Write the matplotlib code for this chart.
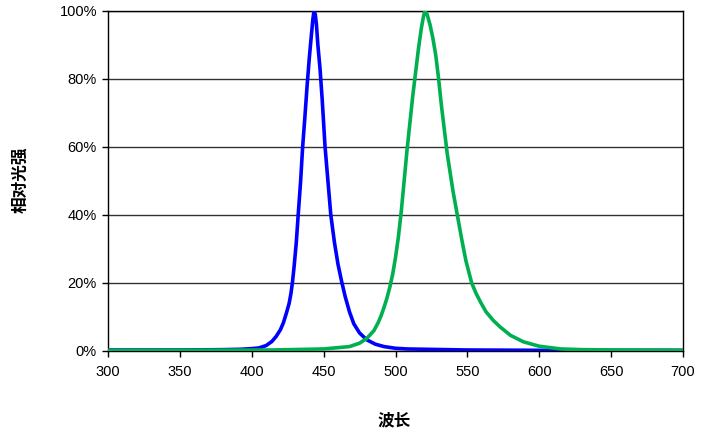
import matplotlib.pyplot as plt
from matplotlib.ticker import FuncFormatter

# 蓝光光谱 (波长 nm, 相对光强 %)
blue_wl = [300, 350, 380, 392, 400, 405, 410, 414, 417, 420, 422, 424, 426, 427.3, 428.4,
           429.5, 431, 432.3, 434, 435.4, 437, 438.5, 440, 441.5, 442.5, 443.3, 444.2, 445,
           446, 447.5, 449, 451, 453, 455, 457.5, 460, 462.5, 465, 468, 471, 475, 480,
           486, 492, 500, 508, 550, 600, 700]
blue_int = [0.3, 0.3, 0.4, 0.5, 0.7, 0.9, 1.6, 2.8, 4.3, 6.3, 8.3, 11, 14, 17, 20.5,
            25, 32, 40, 50, 60, 69, 78, 86, 93, 97.5, 100, 99, 96,
            90, 83, 74, 60, 50, 40, 32, 25.5, 20.5, 16, 11.5, 8, 5.3, 3.3,
            2.0, 1.3, 0.8, 0.6, 0.3, 0.2, 0.2]

# 绿光光谱
green_wl = [300, 415, 450, 468, 475, 480, 485, 488, 490, 492, 494, 496, 498, 500, 502, 504,
            506, 508, 510, 512, 514, 516, 518, 519.5, 520.5, 522, 524, 526, 528, 530,
            532, 534, 536, 538, 540, 543, 546, 549, 553, 556, 559, 563, 568, 573, 580,
            589, 600, 615, 630, 650, 700]
green_int = [0.2, 0.3, 0.6, 1.3, 2.3, 3.7, 6, 8.4, 10.4, 12.8, 15.5, 18.7, 22.5, 27.5, 33.5, 41,
             50, 59, 67, 75, 82, 89, 95, 98.5, 100, 99, 96, 92, 87, 80,
             72, 65, 58, 52.5, 47, 40, 33, 26.5, 20, 17, 14.5, 11.5, 9, 7, 4.6,
             2.7, 1.4, 0.6, 0.4, 0.3, 0.2]

xticks = [300, 350, 400, 450, 500, 550, 600, 650, 700]
yticks = [0, 20, 40, 60, 80, 100]

plt.rcParams['font.family'] = ['Liberation Sans', 'DejaVu Sans']

fig = plt.figure(figsize=(7.12, 4.32), dpi=100)
ax = fig.add_axes([108 / 712, 81 / 432, 575 / 712, 340 / 432])

for y in yticks:
    ax.axhline(y, color='#333333', lw=1.0, zorder=1)

ax.plot(blue_wl, blue_int, color='#0000FF', lw=2.6, solid_joinstyle='round',
        solid_capstyle='round', zorder=3)
ax.plot(green_wl, green_int, color='#00B050', lw=2.6, solid_joinstyle='round',
        solid_capstyle='round', zorder=3)

ax.set_xlim(300, 700)
ax.set_ylim(0, 100)
ax.set_xticks(xticks)
ax.set_yticks(yticks)
ax.yaxis.set_major_formatter(FuncFormatter(lambda v, p: f"{v:.0f}%"))
ax.tick_params(direction='out', length=4, width=1, labelsize=10.5, colors='black')
ax.tick_params(axis='x', pad=6)
ax.tick_params(axis='y', pad=4)

for s in ['left', 'bottom', 'right', 'top']:
    ax.spines[s].set_color('black')
    ax.spines[s].set_linewidth(1.0)

# 轴标题
fig.text(394 / 712, 1 - 420 / 432, '波长', family=['Noto Sans CJK SC'], fontsize=12,
         fontweight='bold', ha='center', va='center')
fig.text(20 / 712, 1 - 180 / 432, '相对光强', family=['Noto Sans CJK SC'], fontsize=12,
         fontweight='bold', ha='center', va='center', rotation=90)

fig.savefig('out.png', dpi=100)
